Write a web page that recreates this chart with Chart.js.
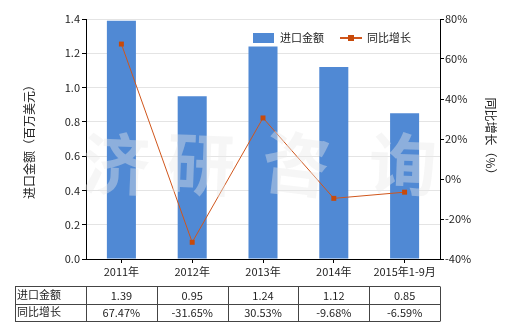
<!DOCTYPE html>
<html lang="zh">
<head>
    <meta charset="UTF-8">
    <title>进口金额与同比增长</title>
    <script src="https://cdn.jsdelivr.net/npm/chart.js"></script>
    <style>
        html, body { margin: 0; padding: 0; background: #fff; }
        .wrap { width: 520px; height: 330px; position: relative; }
    </style>
</head>
<body>
    <div class="wrap"><canvas id="myChart" width="520" height="330"></canvas></div>
    <script>
        // data
        var categories = ['2011年', '2012年', '2013年', '2014年', '2015年1-9月'];
        var importValues = [1.39, 0.95, 1.24, 1.12, 0.85];
        var growthValues = [67.47, -31.65, 30.53, -9.68, -6.59];
        var importLabels = ['1.39', '0.95', '1.24', '1.12', '0.85'];
        var growthLabels = ['67.47%', '-31.65%', '30.53%', '-9.68%', '-6.59%'];
        var rowNames = ['进口金额', '同比增长'];

        var FONT = '"Noto Sans CJK SC", "DejaVu Sans", sans-serif';
        var barColor = '#5089d4';
        var lineColor = '#d0561c';

        // legend, data table and watermark
        var extras = {
            id: 'extras',
            afterDatasetsDraw: function(chart) {
                var ctx = chart.ctx;
                var x = chart.scales.x;
                ctx.save();

                // legend
                ctx.font = '11px ' + FONT;
                ctx.textBaseline = 'middle';
                ctx.fillStyle = barColor;
                ctx.fillRect(253, 33, 21, 10);
                ctx.fillStyle = '#222';
                ctx.fillText('进口金额', 280, 38);
                ctx.strokeStyle = lineColor;
                ctx.lineWidth = 2;
                ctx.beginPath();
                ctx.moveTo(340, 38);
                ctx.lineTo(362, 38);
                ctx.stroke();
                ctx.fillStyle = '#c84a0a';
                ctx.fillRect(348, 35, 6, 6);
                ctx.fillStyle = '#222';
                ctx.fillText('同比增长', 367, 38);

                // table
                var step = x.getPixelForValue(1) - x.getPixelForValue(0);
                var left = 15, colStart = x.getPixelForValue(0) - step / 2;
                var right = colStart + step * categories.length;
                var top = 286, rowH = 17.5;
                ctx.strokeStyle = '#444';
                ctx.lineWidth = 1;
                ctx.beginPath();
                for (var r = 0; r <= 2; r++) {
                    var yy = Math.round(top + r * rowH) + 0.5;
                    ctx.moveTo(left, yy);
                    ctx.lineTo(right, yy);
                }
                var xs = [left, colStart];
                for (var i = 1; i <= categories.length; i++) xs.push(colStart + step * i);
                xs.forEach(function(px) {
                    px = Math.round(px) + 0.5;
                    ctx.moveTo(px, Math.round(top) + 0.5);
                    ctx.lineTo(px, Math.round(top + 2 * rowH) + 0.5);
                });
                ctx.stroke();

                ctx.fillStyle = '#222';
                ctx.textAlign = 'left';
                ctx.fillText(rowNames[0], 17, top + rowH / 2);
                ctx.fillText(rowNames[1], 17, top + rowH * 1.5);
                ctx.textAlign = 'center';
                for (var j = 0; j < categories.length; j++) {
                    var cx = x.getPixelForValue(j);
                    ctx.fillText(importLabels[j], cx, top + rowH / 2 + 1);
                    ctx.fillText(growthLabels[j], cx, top + rowH * 1.5 + 1);
                }

                // watermark
                ctx.font = 'bold 68px ' + FONT;
                ctx.fillStyle = 'rgba(232,232,232,0.4)';
                var marks = ['济', '研', '咨', '询'];
                var mx = [116, 201, 296, 403];
                marks.forEach(function(ch, k) {
                    ctx.save();
                    ctx.translate(mx[k], 164);
                    ctx.rotate(k === 2 ? 0.12 : 0.04);
                    ctx.fillText(ch, 0, 0);
                    ctx.restore();
                });
                ctx.restore();
            }
        };

        var ctx = document.getElementById('myChart').getContext('2d');
        var myChart = new Chart(ctx, {
            data: {
                labels: categories,
                datasets: [{
                    type: 'line',
                    label: '同比增长',
                    data: growthValues,
                    yAxisID: 'y1',
                    borderColor: lineColor,
                    backgroundColor: '#c84a0a',
                    borderWidth: 1,
                    pointStyle: 'rect',
                    pointRadius: 3.5,
                    pointBorderWidth: 0,
                    order: 0
                }, {
                    type: 'bar',
                    label: '进口金额',
                    data: importValues,
                    yAxisID: 'y',
                    backgroundColor: barColor,
                    categoryPercentage: 1,
                    barPercentage: 0.41,
                    order: 1
                }]
            },
            options: {
                responsive: false,
                animation: false,
                layout: { padding: { top: 19, bottom: 46, left: 0, right: 0 } },
                plugins: { legend: { display: false }, tooltip: { enabled: false } },
                scales: {
                    x: {
                        afterFit: function(s) { s.height = 25; },
                        grid: { offset: false, drawOnChartArea: false, tickLength: 4, tickColor: '#000' },
                        border: { color: '#000' },
                        ticks: { color: '#222', font: { family: FONT, size: 11 }, padding: 2, maxRotation: 0 }
                    },
                    y: {
                        position: 'left',
                        min: 0, max: 1.4,
                        afterFit: function(s) { s.width = 86; },
                        grid: { color: '#e4e4e4', tickColor: '#000', tickLength: 4 },
                        border: { color: '#000' },
                        ticks: {
                            stepSize: 0.2, color: '#222', padding: 2,
                            font: { family: FONT, size: 11 },
                            callback: function(v) { return v.toFixed(1); }
                        },
                        title: { display: true, text: '进口金额（百万美元）', color: '#222', font: { family: FONT, size: 12 }, padding: { top: 22, bottom: 0 } }
                    },
                    y1: {
                        position: 'right',
                        min: -40, max: 80,
                        afterFit: function(s) { s.width = 80; },
                        grid: { drawOnChartArea: false, tickColor: '#000', tickLength: 4 },
                        border: { color: '#000' },
                        ticks: {
                            stepSize: 20, color: '#222', padding: 1,
                            font: { family: FONT, size: 11 },
                            callback: function(v) { return v + '%'; }
                        },
                        title: { display: true, text: '同比增长（%）', color: '#222', font: { family: FONT, size: 12 }, padding: { top: 22, bottom: 0 } }
                    }
                }
            },
            plugins: [extras]
        });
    </script>
</body>
</html>
